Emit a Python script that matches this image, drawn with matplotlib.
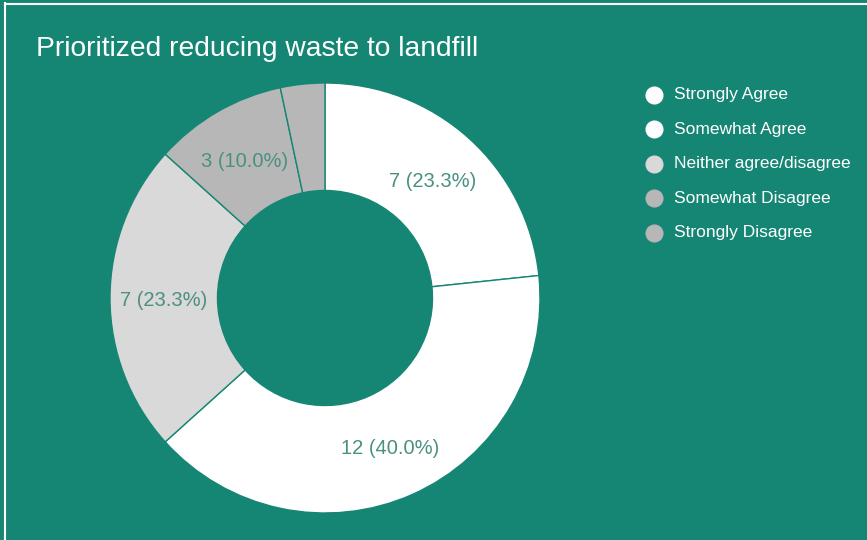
import matplotlib

matplotlib.use("Agg")

import matplotlib.pyplot as plt
from matplotlib.lines import Line2D

plt.rcParams["font.family"] = ["Liberation Sans", "DejaVu Sans"]

categories = [
    "Strongly Agree",
    "Somewhat Agree",
    "Neither agree/disagree",
    "Somewhat Disagree",
    "Strongly Disagree",
]
counts = [7, 12, 7, 3, 1]
colors = ["#ffffff", "#ffffff", "#d9d9d9", "#b7b7b7", "#b7b7b7"]

BG = "#168674"
LABEL_COLOR = "#4a9080"

W, H = 867, 540
fig = plt.figure(figsize=(W / 100, H / 100), dpi=100, facecolor=BG)

# frame line along the top and left edges
fig.add_artist(Line2D([5 / W, 5 / W], [0, 1 - 3 / H], color="white", lw=1.5))
fig.add_artist(Line2D([5 / W, 1], [1 - 3.5 / H, 1 - 3.5 / H], color="white", lw=1.5))

fig.text(36 / W, 1 - 49 / H, "Prioritized reducing waste to landfill",
         color="white", fontsize=20.3, va="center", ha="left")

# donut, centred at (325, 298) px with an outer radius of 215 px
cx, cy, r = 325, 298, 215
ax = fig.add_axes([(cx - r) / W, (H - cy - r) / H, 2 * r / W, 2 * r / H])
ax.set_facecolor("none")
total = sum(counts)


def label(pct):
    n = round(pct * total / 100)
    return f"{n} ({pct:.1f}%)" if pct >= 5 else ""


wedges, texts, autotexts = ax.pie(
    counts,
    colors=colors,
    startangle=90,
    counterclock=False,
    radius=1,
    autopct=label,
    pctdistance=0.75,
    wedgeprops=dict(width=0.5, edgecolor=BG, linewidth=1),
    textprops=dict(color=LABEL_COLOR, fontsize=14.5),
)
# nudge the value labels down a few pixels
for t in autotexts:
    x, y = t.get_position()
    t.set_position((x, y - 3 / r))
ax.set_xlim(-1, 1)
ax.set_ylim(-1, 1)
ax.axis("off")

# legend
for i, (name, col) in enumerate(zip(categories, colors)):
    y = 1 - (94.5 + i * 34.6) / H
    fig.add_artist(Line2D([654 / W], [y], marker="o", markersize=12,
                          markerfacecolor=col, markeredgecolor=col, linestyle="none"))
    fig.text(674 / W, y, name, color="white", fontsize=12.5, va="center", ha="left")

fig.savefig("out.png", dpi=100, facecolor=BG)
